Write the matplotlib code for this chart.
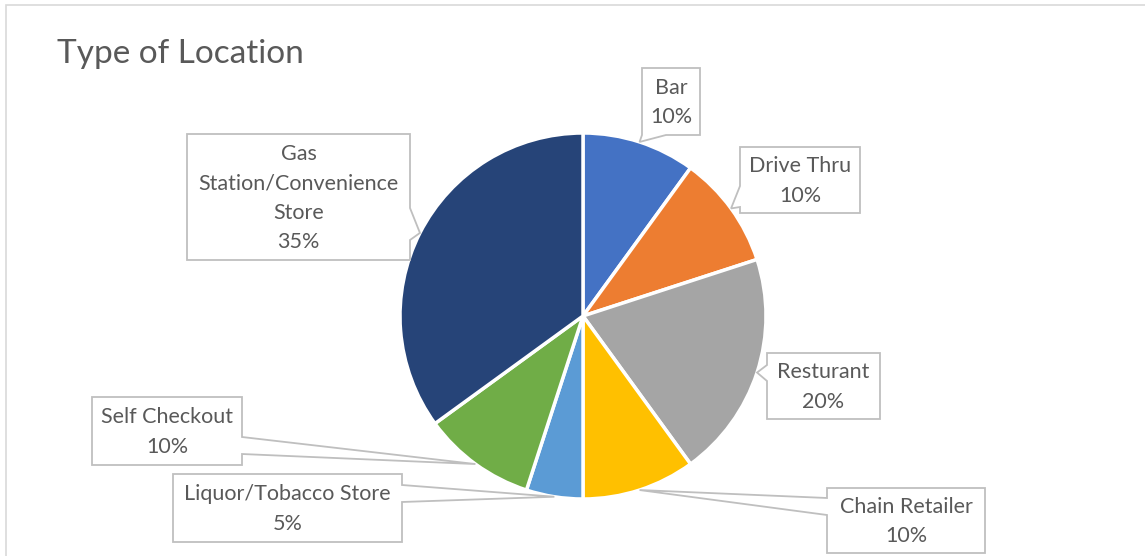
import matplotlib
matplotlib.use("Agg")
import matplotlib.pyplot as plt
from matplotlib.patches import Polygon, Rectangle
import numpy as np

plt.rcParams['font.family'] = ['Lato', 'DejaVu Sans']

# data
categories = ["Bar", "Drive Thru", "Resturant", "Chain Retailer",
              "Liquor/Tobacco Store", "Self Checkout", "Gas Station/Convenience Store"]
shares = [10, 10, 20, 10, 5, 10, 35]
label_texts = ["Bar\n10%", "Drive Thru\n10%", "Resturant\n20%", "Chain Retailer\n10%",
               "Liquor/Tobacco Store\n5%", "Self Checkout\n10%",
               "Gas\nStation/Convenience\nStore\n35%"]
colors = ["#4472C4", "#ED7D31", "#A5A5A5", "#FFC000", "#5B9BD5", "#70AD47", "#264478"]

W, H = 1145, 556
# layout in pixel coords (top-down y): box (x0, y0, x1, y1), pointer side, pointer base
boxes = [
    ((642, 68, 700, 135), "bottom", (642, 666)),
    ((740, 147, 860, 213), "left", (186, 207)),
    ((767, 353, 880, 419), "left", (365, 381)),
    ((827, 488, 985, 553), "left", (498, 515)),
    ((173, 474, 402, 542), "right", (485, 502)),
    ((92, 397, 242, 465), "right", (437, 454)),
    ((187, 134, 410, 260), "right", (208, 240)),
]
cx, cy, r = 583, 316, 183


def fy(y):
    return H - y


fig = plt.figure(figsize=(W / 100, H / 100), dpi=100)
ax = fig.add_axes([0, 0, 1, 1])

wedges, _ = ax.pie(shares, colors=colors, startangle=90, counterclock=False,
                   center=(cx, fy(cy)), radius=r,
                   wedgeprops=dict(edgecolor="white", linewidth=2.5))

# chart border
ax.add_patch(Rectangle((6, fy(600)), 1200, 595, fill=False, edgecolor="#D9D9D9", lw=1.2))

ax.text(57, fy(54), "Type of Location", fontsize=24, color="#595959",
        ha="left", va="center")

for w, txt, (box, side, base) in zip(wedges, label_texts, boxes):
    ang = np.deg2rad((w.theta1 + w.theta2) / 2)
    tx = cx + r * np.cos(ang)
    ty = cy - r * np.sin(ang)
    x0, y0, x1, y1 = box
    b0, b1 = base
    if side == "right":
        pts = [(x0, y0), (x1, y0), (x1, b0), (tx, ty), (x1, b1), (x1, y1), (x0, y1)]
    elif side == "left":
        pts = [(x0, y0), (x1, y0), (x1, y1), (x0, y1), (x0, b1), (tx, ty), (x0, b0)]
    else:
        pts = [(x0, y0), (x1, y0), (x1, y1), (b1, y1), (tx, ty), (b0, y1), (x0, y1)]
    pts = [(px, fy(py)) for px, py in pts]
    ax.add_patch(Polygon(pts, closed=True, facecolor="white", edgecolor="#BFBFBF",
                         lw=1.3, zorder=3))
    ax.text((x0 + x1) / 2, fy((y0 + y1) / 2 + 1), txt, fontsize=15.5, color="#595959",
            ha="center", va="center", linespacing=1.6, zorder=4)

ax.set_xlim(0, W)
ax.set_ylim(0, H)
ax.set_aspect("auto")
ax.axis("off")

fig.savefig("out.png", dpi=100, facecolor="white")
